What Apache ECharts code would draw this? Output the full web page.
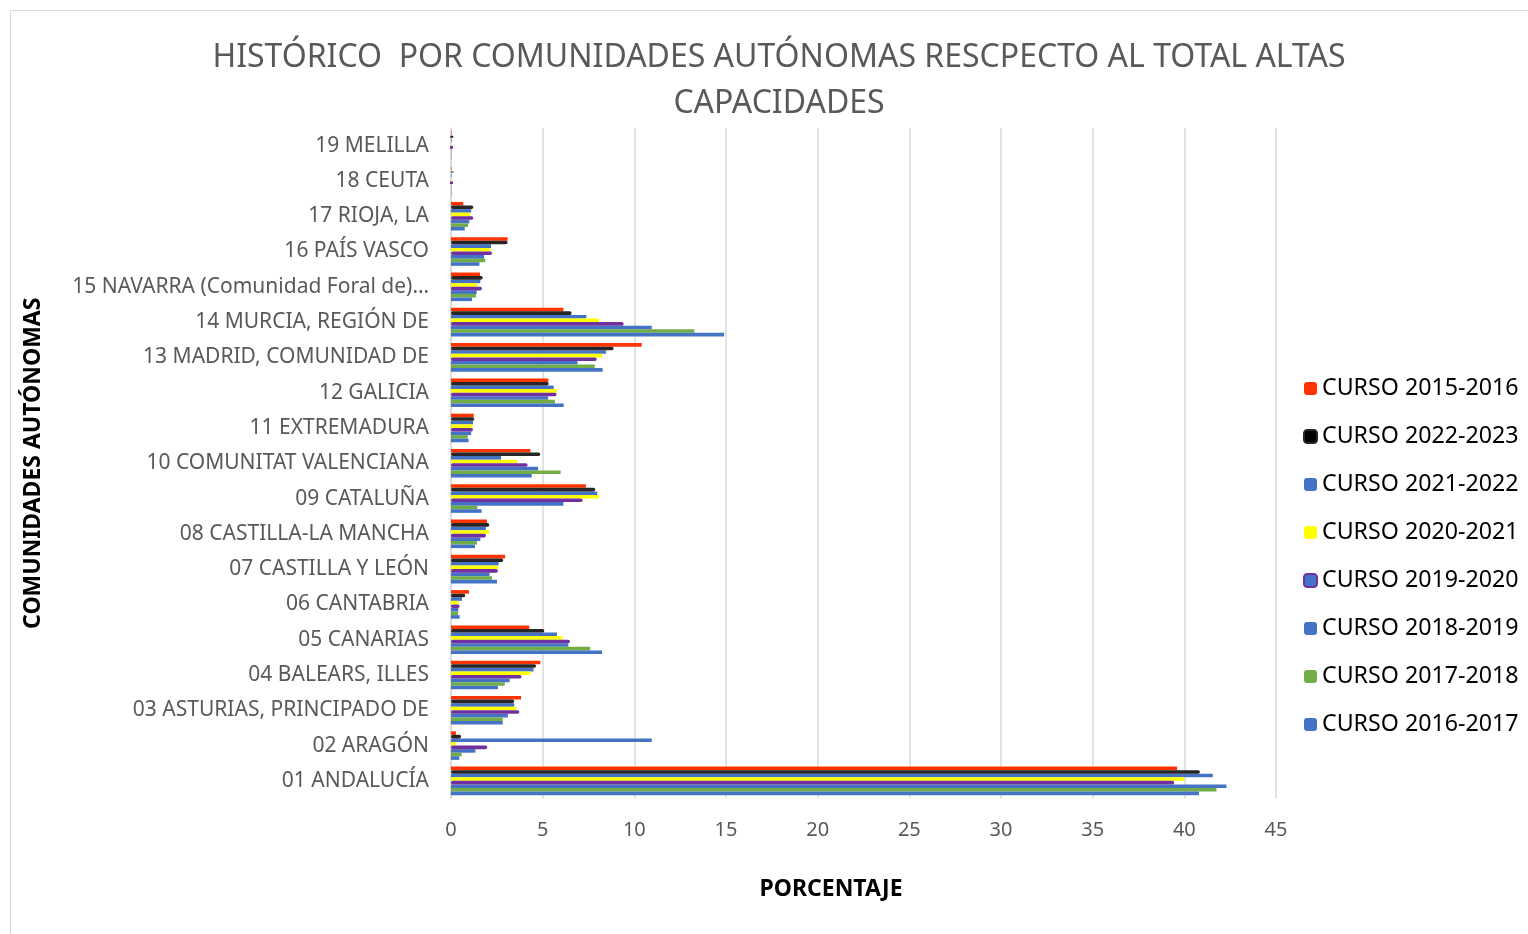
<!DOCTYPE html>
<html>
<head>
<meta charset="utf-8">
<script src="https://cdn.jsdelivr.net/npm/echarts@6/dist/echarts.min.js"></script>
<style>
  html, body { margin: 0; padding: 0; background: #fff; }
  #chart { width: 1528px; height: 934px; }
</style>
</head>
<body>
<div id="chart"></div>
<script>
// categories, bottom to top
const categories = [
  '01 ANDALUCÍA', '02 ARAGÓN', '03 ASTURIAS, PRINCIPADO DE', '04 BALEARS, ILLES',
  '05 CANARIAS', '06 CANTABRIA', '07 CASTILLA Y LEÓN', '08 CASTILLA-LA MANCHA',
  '09 CATALUÑA', '10 COMUNITAT VALENCIANA', '11 EXTREMADURA', '12 GALICIA',
  '13 MADRID, COMUNIDAD DE', '14 MURCIA, REGIÓN DE', '15 NAVARRA (Comunidad Foral de)…',
  '16 PAÍS VASCO', '17 RIOJA, LA', '18 CEUTA', '19 MELILLA'
]

const curso2015 = [39.6, 0.27, 3.82, 4.87, 4.27, 0.98, 2.95, 1.96, 7.36, 4.33, 1.24, 5.31, 10.4, 6.13, 1.58, 3.09, 0.67, 0.03, 0.03]
const curso2022 = [40.85, 0.55, 3.45, 4.64, 5.09, 0.78, 2.85, 2.09, 7.87, 4.87, 1.27, 5.33, 8.87, 6.58, 1.73, 3.09, 1.22, 0.13, 0.09]
const curso2021 = [41.55, 10.95, 3.45, 4.5, 5.78, 0.6, 2.6, 1.9, 7.98, 2.73, 1.2, 5.6, 8.45, 7.38, 1.6, 2.18, 1.1, 0.03, 0.03]
const curso2020 = [40.0, 0.27, 3.56, 4.33, 6.07, 0.42, 2.56, 2.09, 8.07, 3.6, 1.18, 5.78, 8.25, 8.07, 1.45, 2.15, 1.04, 0.02, 0.02]
const curso2019 = [39.45, 1.98, 3.73, 3.85, 6.49, 0.47, 2.56, 1.91, 7.18, 4.18, 1.2, 5.76, 7.95, 9.42, 1.69, 2.24, 1.22, 0.05, 0.05]
const curso2018 = [42.3, 1.33, 3.1, 3.2, 6.4, 0.4, 2.1, 1.6, 6.13, 4.75, 1.1, 5.3, 6.9, 10.95, 1.4, 1.8, 1.0, 0.02, 0.02]
const curso2017 = [41.75, 0.58, 2.82, 2.93, 7.58, 0.38, 2.24, 1.42, 1.44, 5.98, 0.91, 5.67, 7.84, 13.27, 1.36, 1.87, 0.93, 0.02, 0.02]
const curso2016 = [40.8, 0.45, 2.82, 2.56, 8.24, 0.47, 2.51, 1.31, 1.67, 4.4, 0.96, 6.15, 8.27, 14.9, 1.15, 1.55, 0.75, 0.02, 0.02]

const xTicks = { min: 0, max: 45, interval: 5 }

const font = '"Noto Sans", sans-serif'
const chart = echarts.init(document.getElementById('chart'))

function bar(name, data, style, z) {
  return {
    name: name,
    type: 'bar',
    data: data,
    barGap: '0%',
    barCategoryGap: '19%',
    z: z || 2,
    itemStyle: style
  }
}

chart.setOption({
  animation: false,
  title: {
    text: 'HISTÓRICO  POR COMUNIDADES AUTÓNOMAS RESCPECTO AL TOTAL ALTAS\nCAPACIDADES',
    left: 774,
    top: 30,
    textAlign: 'center',
    textStyle: {
      fontFamily: font,
      fontWeight: 'normal',
      fontSize: 32,
      lineHeight: 46,
      color: '#595959'
    }
  },
  legend: {
    orient: 'vertical',
    left: 1298,
    top: 372,
    itemWidth: 13,
    itemHeight: 13,
    itemGap: 25,
    data: ['CURSO 2015-2016', 'CURSO 2022-2023', 'CURSO 2021-2022', 'CURSO 2020-2021',
      'CURSO 2019-2020', 'CURSO 2018-2019', 'CURSO 2017-2018', 'CURSO 2016-2017'],
    textStyle: { fontFamily: font, fontSize: 23.2, lineHeight: 20, color: '#000' }
  },
  grid: { left: 451, right: 252, top: 128, bottom: 135.5 },
  xAxis: {
    type: 'value',
    min: xTicks.min,
    max: xTicks.max,
    interval: xTicks.interval,
    axisLine: { show: false },
    axisTick: { show: false },
    splitLine: { lineStyle: { color: '#d9d9d9', width: 1.5 } },
    axisLabel: { fontFamily: font, fontSize: 20, color: '#595959', margin: 22 }
  },
  yAxis: {
    type: 'category',
    data: categories,
    name: 'COMUNIDADES AUTÓNOMAS',
    nameLocation: 'middle',
    nameGap: 406,
    nameRotate: 90,
    nameTextStyle: { fontFamily: font, fontWeight: 'bold', fontSize: 23, color: '#000' },
    axisLine: { lineStyle: { color: '#d9d9d9', width: 1.5 } },
    axisTick: { length: 6, lineStyle: { color: '#d9d9d9', width: 1.5 } },
    axisLabel: { fontFamily: font, fontSize: 21, color: '#595959', margin: 22, padding: [5, 0, 0, 0] }
  },
  graphic: [
    {
      type: 'rect',
      shape: { x: 10.5, y: 10.5, width: 1540, height: 950 },
      style: { fill: 'none', stroke: '#d9d9d9', lineWidth: 1 },
      silent: true
    },
    {
      type: 'text',
      x: 831,
      y: 889,
      style: {
        text: 'PORCENTAJE',
        align: 'center',
        verticalAlign: 'middle',
        fontFamily: font,
        fontWeight: 'bold',
        fontSize: 23,
        fill: '#000'
      }
    }
  ],
  series: [
    bar('CURSO 2015-2016', curso2015, { color: '#FF3300' }),
    bar('CURSO 2022-2023', curso2022, { color: '#000000', borderColor: '#262626', borderWidth: 3, borderRadius: 2 }, 4),
    bar('CURSO 2021-2022', curso2021, { color: '#4472C4' }),
    bar('CURSO 2020-2021', curso2020, { color: '#FFFF00' }),
    bar('CURSO 2019-2020', curso2019, { color: '#4472C4', borderColor: '#7030A0', borderWidth: 3, borderRadius: 2 }, 4),
    bar('CURSO 2018-2019', curso2018, { color: '#4472C4' }),
    bar('CURSO 2017-2018', curso2017, { color: '#70AD47' }),
    bar('CURSO 2016-2017', curso2016, { color: '#4472C4' })
  ]
})
</script>
</body>
</html>
